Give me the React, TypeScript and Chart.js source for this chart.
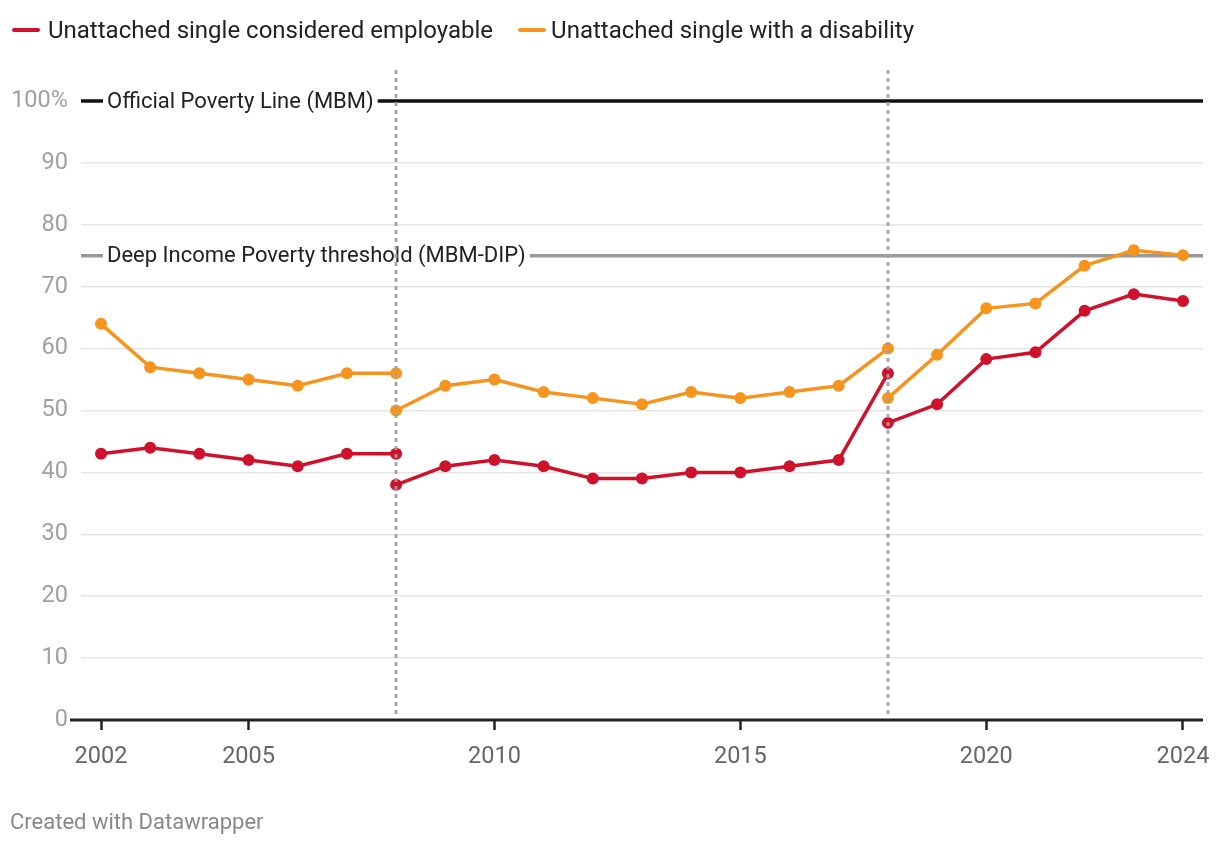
import React, { useEffect, useRef } from "react";
import { Chart, registerables } from "chart.js";

Chart.register(...registerables);

const seriesNames = ["Unattached single considered employable", "Unattached single with a disability"];
const seriesColors = ["#d0112b", "#f7941d"];

const seg1Years = [2002, 2003, 2004, 2005, 2006, 2007, 2008];
const employable1 = [43, 44, 43, 42, 41, 43, 43];
const disability1 = [64, 57, 56, 55, 54, 56, 56];

const seg2Years = [2008, 2009, 2010, 2011, 2012, 2013, 2014, 2015, 2016, 2017, 2018];
const employable2 = [38, 41, 42, 41, 39, 39, 40, 40, 41, 42, 56];
const disability2 = [50, 54, 55, 53, 52, 51, 53, 52, 53, 54, 60];

const seg3Years = [2018, 2019, 2020, 2021, 2022, 2023, 2024];
const employable3 = [48, 51, 58.3, 59.4, 66.1, 68.8, 67.7];
const disability3 = [52, 59, 66.5, 67.3, 73.4, 75.9, 75.1];

const breakYears = [2008, 2018];
const thresholdValues = [100, 75];
const thresholdLabels = ["Official Poverty Line (MBM)", "Deep Income Poverty threshold (MBM-DIP)"];
const thresholdColors = ["#111111", "#999999"];

const xTickYears = [2002, 2005, 2010, 2015, 2020, 2024];
const yTickValues = [0, 10, 20, 30, 40, 50, 60, 70, 80, 90, 100];

const FONT = "Roboto, 'Noto Sans', sans-serif";

function buildSeries(segments: [number[], number[]][]) {
  const out: { x: number; y: number | null }[] = [];
  segments.forEach(([years, vals], i) => {
    if (i > 0) out.push({ x: years[0], y: null });
    years.forEach((yr, j) => out.push({ x: yr, y: vals[j] }));
  });
  return out;
}

const overlayPlugin = {
  id: "overlay",
  beforeDatasetsDraw(chart: any) {
    const { ctx, chartArea, scales } = chart;
    const ys = scales.y;
    ctx.save();
    ctx.strokeStyle = "#222";
    ctx.lineWidth = 3;
    ctx.beginPath();
    ctx.moveTo(chartArea.left - 11, ys.getPixelForValue(0));
    ctx.lineTo(chartArea.right, ys.getPixelForValue(0));
    ctx.stroke();
    ctx.font = `22px ${FONT}`;
    ctx.textBaseline = "middle";
    thresholdValues.forEach((v, i) => {
      const py = ys.getPixelForValue(v);
      ctx.strokeStyle = thresholdColors[i];
      ctx.lineWidth = 3.5;
      ctx.beginPath();
      ctx.moveTo(chartArea.left, py);
      ctx.lineTo(chartArea.right, py);
      ctx.stroke();
      const tx = chartArea.left + 26;
      const w = ctx.measureText(thresholdLabels[i]).width;
      ctx.fillStyle = "#fff";
      ctx.fillRect(tx - 4, py - 14, w + 8, 28);
      ctx.fillStyle = "#222";
      ctx.textAlign = "left";
      ctx.fillText(thresholdLabels[i], tx, py + 1);
    });
    ctx.restore();
  },
  afterDatasetsDraw(chart: any) {
    const { ctx, scales } = chart;
    const xs = scales.x;
    const ys = scales.y;
    ctx.save();
    ctx.strokeStyle = "rgba(160,160,160,0.9)";
    ctx.lineWidth = 3;
    ctx.setLineDash([4, 4]);
    breakYears.forEach((yr) => {
      const px = Math.round(xs.getPixelForValue(yr));
      ctx.beginPath();
      ctx.moveTo(px, ys.getPixelForValue(100) - 31);
      ctx.lineTo(px, ys.getPixelForValue(0) - 1);
      ctx.stroke();
    });
    ctx.restore();
  },
};

export default function App() {
  const ref = useRef<HTMLCanvasElement | null>(null);

  useEffect(() => {
    document.body.style.margin = "0";
    const canvas = ref.current;
    if (!canvas) return;
    const employable = buildSeries([
      [seg1Years, employable1],
      [seg2Years, employable2],
      [seg3Years, employable3],
    ]);
    const disability = buildSeries([
      [seg1Years, disability1],
      [seg2Years, disability2],
      [seg3Years, disability3],
    ]);
    const chart = new Chart(canvas, {
      type: "line",
      data: {
        datasets: [
          {
            label: seriesNames[1],
            data: disability as any,
            borderColor: seriesColors[1],
            backgroundColor: seriesColors[1],
            borderWidth: 3.5,
            pointRadius: 6,
            pointBorderWidth: 0,
            spanGaps: false,
            tension: 0,
          },
          {
            label: seriesNames[0],
            data: employable as any,
            borderColor: seriesColors[0],
            backgroundColor: seriesColors[0],
            borderWidth: 3.5,
            pointRadius: 6,
            pointBorderWidth: 0,
            spanGaps: false,
            tension: 0,
          },
        ],
      },
      options: {
        animation: false,
        responsive: false,
        maintainAspectRatio: false,
        layout: { padding: { left: 0, right: 17, top: 101, bottom: 0 } },
        plugins: { legend: { display: false }, tooltip: { enabled: false } },
        scales: {
          x: {
            type: "linear",
            min: 2001.593,
            max: 2024.407,
            afterBuildTicks: (s: any) => {
              s.ticks = xTickYears.map((v) => ({ value: v }));
            },
            afterFit: (s: any) => {
              s.height = 126;
              s.paddingLeft = 0;
              s.paddingRight = 0;
            },
            grid: {
              drawOnChartArea: false,
              drawTicks: true,
              tickLength: 10,
              tickColor: "#222",
              tickWidth: 2.5,
            },
            border: { display: false },
            ticks: {
              autoSkip: false,
              maxRotation: 0,
              padding: 13,
              color: "#666",
              font: { family: FONT, size: 23.5 },
              callback: (v: any) => String(v),
            },
          },
          y: {
            type: "linear",
            min: 0,
            max: 100,
            afterBuildTicks: (s: any) => {
              s.ticks = yTickValues.map((v) => ({ value: v }));
            },
            afterFit: (s: any) => {
              s.width = 81;
              s.paddingTop = 0;
              s.paddingBottom = 0;
            },
            grid: {
              drawTicks: false,
              lineWidth: 1.5,
              color: (c: any) => (c.tick && (c.tick.value === 100 || c.tick.value === 0) ? "rgba(0,0,0,0)" : "#e6e6e6"),
            },
            border: { display: false },
            ticks: {
              padding: 13,
              color: "#a0a0a0",
              font: { family: FONT, size: 23.5 },
              callback: (v: any) => (v === 100 ? "100%" : String(v)),
            },
          },
        },
      },
      plugins: [overlayPlugin],
    });
    return () => chart.destroy();
  }, []);

  const legendOrder = [0, 1];
  return (
    <div style={{ position: "relative", width: 1220, height: 846, fontFamily: FONT, background: "#fff" }}>
      <canvas ref={ref} width={1220} height={846} style={{ position: "absolute", left: 0, top: 0 }} />
      <div
        style={{
          position: "absolute",
          left: 12,
          top: 15,
          display: "flex",
          alignItems: "center",
          fontSize: 24,
          color: "#222",
          lineHeight: "30px",
        }}
      >
        {legendOrder.map((i) => (
          <div key={i} style={{ display: "flex", alignItems: "center", marginRight: 25 }}>
            <span
              style={{
                display: "inline-block",
                width: 28,
                height: 4,
                borderRadius: 2,
                background: seriesColors[i],
                marginRight: i === 0 ? 8 : 5,
              }}
            />
            <span>{seriesNames[i]}</span>
          </div>
        ))}
      </div>
      <div
        style={{
          position: "absolute",
          left: 10,
          top: 809,
          fontSize: 22,
          color: "#888",
          lineHeight: "26px",
        }}
      >
        Created with Datawrapper
      </div>
    </div>
  );
}
